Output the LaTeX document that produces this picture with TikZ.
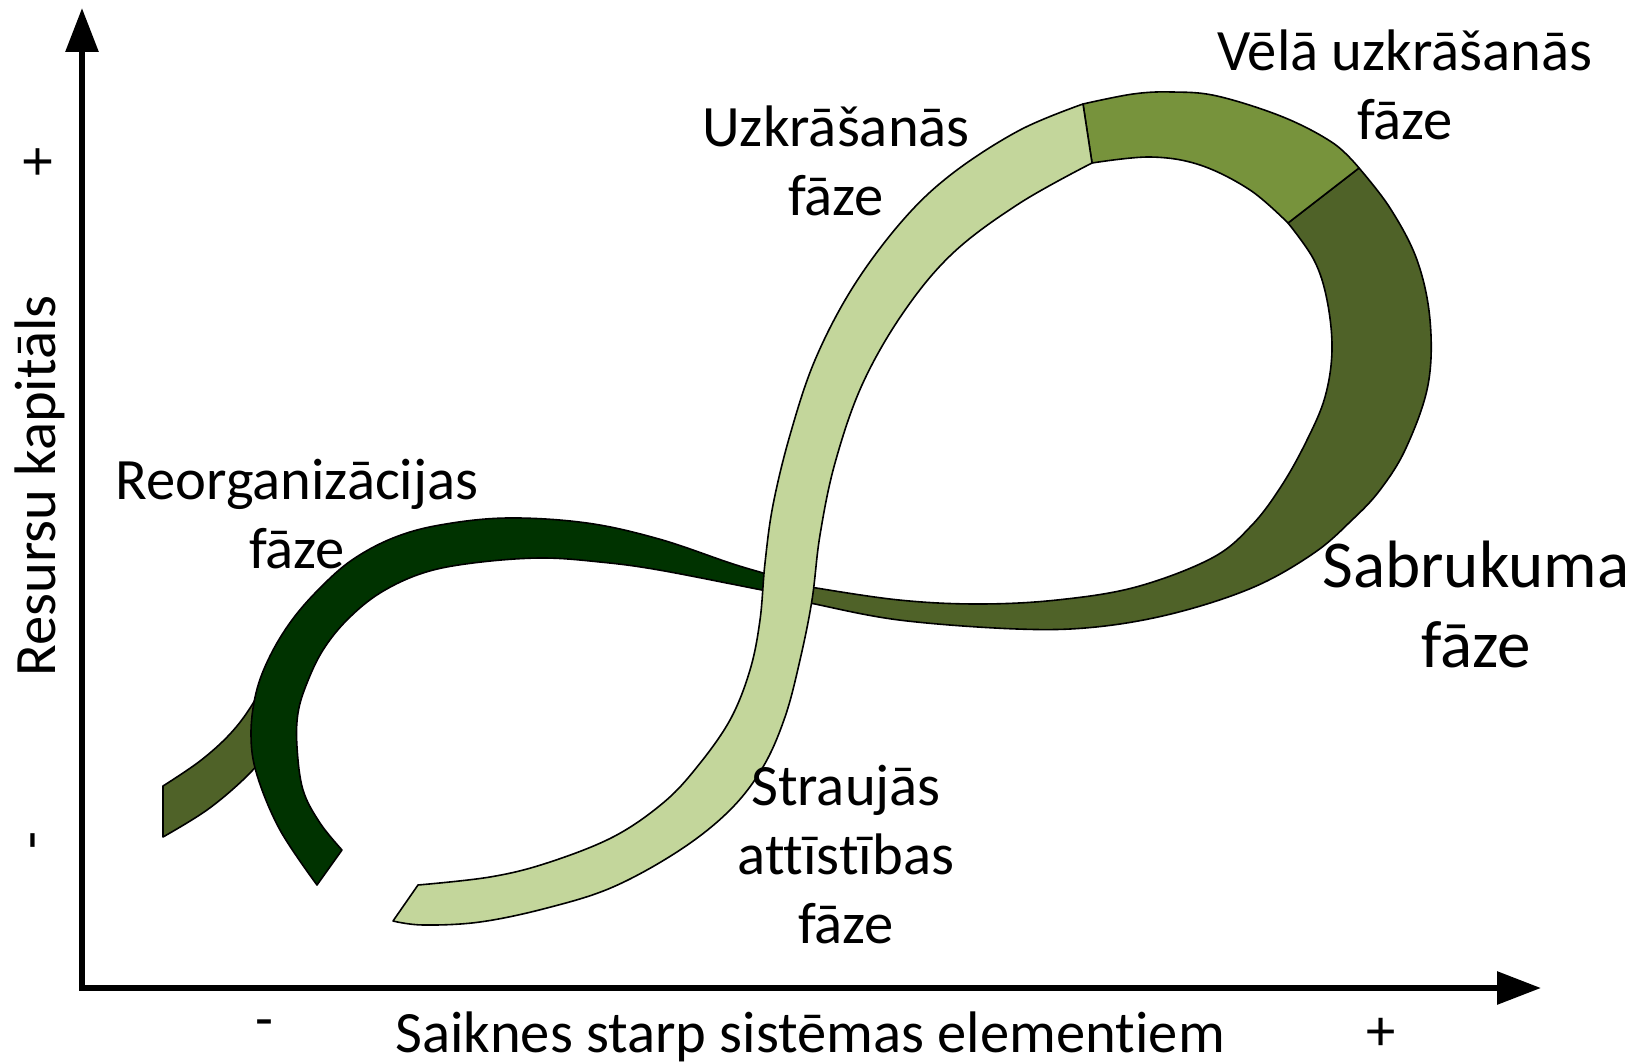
\documentclass[tikz,border=0pt]{standalone}
\usepackage{fontspec}
\setmainfont{Carlito}[Ligatures=CommonOff]
\usetikzlibrary{arrows.meta}
\definecolor{dkgreen}{HTML}{003300}
\definecolor{olivebd}{HTML}{4F6228}
\definecolor{midgreen}{HTML}{77933C}
\definecolor{ltgreen}{HTML}{C3D69B}
\begin{document}
\begin{tikzpicture}[x=0.5pt,y=-0.5pt,
  band/.style={draw=black, line width=0.8pt, line join=round},
  edge/.style={smooth, tension=0.6},
  lbl/.style={font=\fontsize{29.3}{34.5}\selectfont, align=center, inner sep=0pt},
  axis/.style={line width=3pt, {Triangle[length=22pt,width=16pt]}-{Triangle[length=22pt,width=16pt]}}]
\useasboundingbox (0,0) rectangle (1638,1064);

% olive stub (bottom left)
\filldraw[band, fill=olivebd] (163,837) -- (163,786)
  -- plot[edge] coordinates {(163,786) (200,761) (230,734) (252,705) (270,670)}
  -- (300,682) -- (272,748)
  -- plot[edge] coordinates {(272,748) (245,778) (207,810) (163,837)} -- cycle;

% dark green reorganisation band
\filldraw[band, fill=dkgreen] (342,850) -- (317,885)
  -- plot[edge] coordinates {(317,885) (280,830) (257,775) (251,735) (256,693) (270,656) (292,620) (320,588) (352,560) (393,538) (440,525) (507,518) (587,523) (659,539) (730,563) (763,573) (785,580)}
  -- (785,594)
  -- plot[edge] coordinates {(785,594) (762,590) (659,570) (600,562) (540,558) (473,563) (423,573) (380,593) (347,620) (323,650) (307,683) (298,713) (297,747) (303,790) (320,823) (342,850)} -- cycle;

% olive collapse band (right)
\filldraw[band, fill=olivebd]
  plot[edge] coordinates {(1359,168) (1390,208) (1417,260) (1430,320) (1428,385) (1406,448) (1380,490) (1352,520) (1314,553) (1254,587) (1175,613) (1096,627) (1017,629) (899,620) (810,603) (790,599)}
  -- (790,583)
  -- plot[edge] coordinates {(790,583) (810,587) (899,600) (978,604) (1057,600) (1136,587) (1212,558) (1252,525) (1282,485) (1307,440) (1325,397) (1332,350) (1327,300) (1314,260) (1288,223)} -- cycle;

% mid green late accumulation band
\filldraw[band, fill=midgreen]
  plot[edge] coordinates {(1083,104) (1133,94) (1172,92) (1217,96) (1283,117) (1333,143) (1359,168)}
  -- (1288,223)
  -- plot[edge] coordinates {(1288,223) (1250,190) (1200,165) (1150,157) (1092,163)} -- cycle;

% light green growth / accumulation band
\filldraw[band, fill=ltgreen] (393,921) -- (418,885)
  -- plot[edge] coordinates {(418,885) (490,877) (547,863) (613,837) (663,803) (697,767) (730,720) (750,670) (760,620) (765,563) (773,505) (790,435) (815,360) (853,287) (903,220) (953,173) (1020,130) (1083,104)}
  -- (1092,163)
  -- plot[edge] coordinates {(1092,163) (1020,203) (953,253) (903,313) (862,385) (835,463) (820,535) (812,600) (800,660) (785,717) (763,767) (730,810) (680,850) (613,887) (547,908) (480,922) (423,925) (393,921)} -- cycle;

% axes
\coordinate (ytip) at (82,8);
\coordinate (orig) at (82,988);
\coordinate (xtip) at (1541,988);
\draw[axis] (ytip) -- (orig) -- (xtip);

% labels
\node[lbl] (reorg) at (297,514) {Reorganizācijas\\fāze};
\node[lbl] (uzkr) at (836,161) {Uzkrāšanās\\fāze};
\node[lbl] (vela) at (1405,85) {Vēlā uzkrāšanās\\fāze};
\node[lbl, font=\fontsize{33.5}{40}\selectfont] (sabr) at (1476,604) {Sabrukuma\\fāze};
\node[lbl] (strauj) at (846,855) {Straujās\\attīstības\\fāze};
\node[lbl, anchor=base] (xlab) at (810,1052) {Saiknes starp sistēmas elementiem};
\node[lbl] (xminus) at (264,1029) {-};
\node[lbl] (xplus) at (1381,1034) {+};
\node[lbl, rotate=90] (ylab) at (40,486) {Resursu kapitāls};
\node[lbl, rotate=90] (yplus) at (40,162) {+};
\node[lbl, rotate=90] (yminus) at (40,841) {-};
\end{tikzpicture}
\end{document}
